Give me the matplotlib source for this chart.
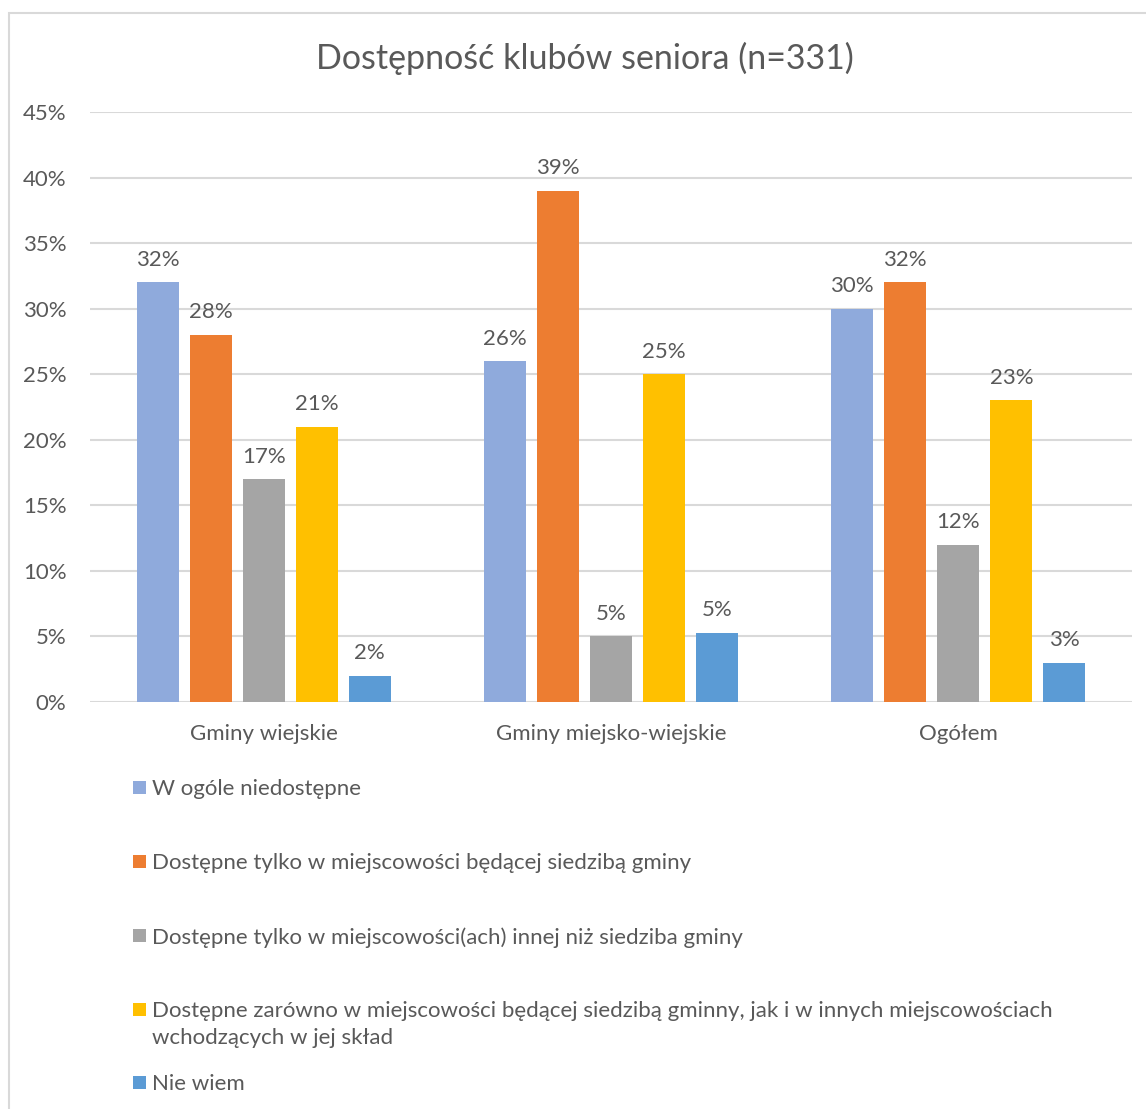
import matplotlib
matplotlib.use("Agg")
import matplotlib.pyplot as plt
from matplotlib.patches import Rectangle
import numpy as np

plt.rcParams['font.family'] = ['Lato', 'DejaVu Sans']

title = "Dostępność klubów seniora (n=331)"
categories = ["Gminy wiejskie", "Gminy miejsko-wiejskie", "Ogółem"]
series_names = [
    "W ogóle niedostępne",
    "Dostępne tylko w miejscowości będącej siedzibą gminy",
    "Dostępne tylko w miejscowości(ach) innej niż siedziba gminy",
    "Dostępne zarówno w miejscowości będącej siedzibą gminny, jak i w innych miejscowościach\nwchodzących w jej skład",
    "Nie wiem",
]
values_niedostepne = [32, 26, 30]
values_siedziba = [28, 39, 32]
values_inne = [17, 5, 12]
values_zarowno = [21, 25, 23]
values_nie_wiem = [2, 5.3, 3]
series_values = [values_niedostepne, values_siedziba, values_inne, values_zarowno, values_nie_wiem]
colors = ["#8FAADC", "#ED7D31", "#A5A5A5", "#FFC000", "#5B9BD5"]
yticks = [0, 5, 10, 15, 20, 25, 30, 35, 40, 45]

W, H = 1146, 1109
fig = plt.figure(figsize=(W / 100, H / 100), dpi=100)
txt = "#595959"
fs = 16

# outer chart border (cropped at right/bottom)
fig.patches.append(Rectangle((8.5 / W, -0.1), 1.2, 1 - 12.5 / H + 0.1, transform=fig.transFigure,
                             fill=False, edgecolor="#D9D9D9", linewidth=1.5))

ax = fig.add_axes([90 / W, 1 - 702 / H, (1132 - 90) / W, (702 - 112) / H])
x = np.arange(len(categories))
slot = 53 / 347
bw = 42 / 347
n = len(series_values)
for i, (vals, c) in enumerate(zip(series_values, colors)):
    pos = x + (i - (n - 1) / 2) * slot
    bars = ax.bar(pos, vals, width=bw, color=c, zorder=3)
    ax.bar_label(bars, labels=[f"{round(v):d}%" for v in vals], padding=9,
                 fontsize=fs, color=txt)

ax.set_xlim(-0.5, len(categories) - 0.5)
ax.set_ylim(0, 45)
ax.set_yticks(yticks)
ax.set_yticklabels([f"{t}%" for t in yticks])
ax.set_xticks(x)
ax.set_xticklabels(categories)
ax.tick_params(axis='both', length=0, labelsize=fs, labelcolor=txt)
ax.tick_params(axis='y', pad=17)
ax.tick_params(axis='x', pad=16)
for s in ax.spines.values():
    s.set_visible(False)
ax.grid(axis='y', color="#D9D9D9", linewidth=1.5, zorder=0)
ax.set_axisbelow(True)

fig.text(585 / W, 1 - 58 / H, title, ha='center', va='center', fontsize=24.5, color=txt)

# legend (manual, vertical list as in the reference)
leg_y = [787, 861, 935, 1009, 1082]
for name, c, yy in zip(series_names, colors, leg_y):
    fig.patches.append(Rectangle((133 / W, 1 - (yy + 6.5) / H), 13 / W, 13 / H,
                                 transform=fig.transFigure, facecolor=c, edgecolor='none'))
    fig.text(152 / W, 1 - (yy - 8) / H, name, ha='left', va='top', fontsize=fs,
             color=txt, linespacing=1.45)

fig.savefig("out.png", dpi=100, facecolor="white")
